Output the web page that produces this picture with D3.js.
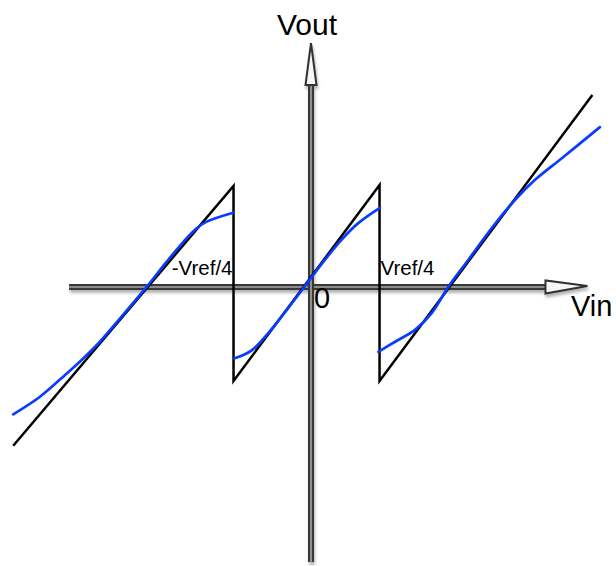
<!DOCTYPE html>
<html>
<head>
<meta charset="utf-8">
<script src="https://cdn.jsdelivr.net/npm/d3@7"></script>
<style>
  html, body { margin: 0; padding: 0; background: #fff; }
  svg { display: block; }
</style>
</head>
<body>
<svg id="chart" width="616" height="566"></svg>
<script>
// Folding transfer characteristic, values in units of Vref.

// Ideal (piecewise-linear, folding) transfer curve
const idealVin  = [-1.034, -0.269, -0.269, 0.238, 0.238, 0.977];
const idealVout = [-0.551,  0.351, -0.326, 0.354, -0.326, 0.667];

// Real (smooth) transfer curve, three folds
const realVin1  = [-1.034, -0.941, -0.848, -0.802, -0.733, -0.663, -0.570, -0.501, -0.443, -0.397, -0.362, -0.270];
const realVout1 = [-0.442, -0.381, -0.300, -0.259, -0.190, -0.109,  0.001,  0.088,  0.157,  0.204,  0.227,  0.258];
const realVin2  = [-0.267, -0.207, -0.149, -0.080, -0.010, 0.048, 0.105, 0.163, 0.239];
const realVout2 = [-0.248, -0.221, -0.161, -0.074,  0.018, 0.094, 0.163, 0.221, 0.275];
const realVin3  = [0.234, 0.292, 0.361, 0.419, 0.477, 0.546, 0.627, 0.708, 0.778, 0.871, 1.003];
const realVout3 = [-0.225, -0.190, -0.149, -0.091, 0.001, 0.094, 0.204, 0.302, 0.372, 0.447, 0.555];

// Fold points labelled on the Vin axis
const tickValues = [-0.269, 0.238];
const tickLabels = ["-Vref/4", "Vref/4"];

// Axis extents
const vinAxisExtent  = [-0.840, 0.960];
const voutAxisExtent = [-0.955, 0.847];

const svg = d3.select("#chart");
const W = 616, H = 566;
const x = d3.scaleLinear().domain([-1, 1]).range([23, 599]);
const y = d3.scaleLinear().domain([-1, 1]).range([575, -1]);

const font = "'Liberation Sans', Arial, Helvetica, sans-serif";

// Soft drop shadow for the axes
const defs = svg.append("defs");
const f = defs.append("filter").attr("id", "axisShadow")
  .attr("filterUnits", "userSpaceOnUse")
  .attr("x", 0).attr("y", 0).attr("width", W).attr("height", H);
f.append("feGaussianBlur").attr("in", "SourceAlpha").attr("stdDeviation", 1.6).attr("result", "b");
f.append("feOffset").attr("in", "b").attr("dx", 1).attr("dy", 3).attr("result", "o");
f.append("feComponentTransfer").attr("in", "o").attr("result", "s")
  .append("feFuncA").attr("type", "linear").attr("slope", 0.3);
const m = f.append("feMerge");
m.append("feMergeNode").attr("in", "s");
m.append("feMergeNode").attr("in", "SourceGraphic");

// Axes drawn as hollow arrows
const axes = svg.append("g").attr("filter", "url(#axisShadow)");
const headLen = 42, headHalf = 6;

const x0 = x(0), y0 = y(0);
const hTip = x(vinAxisExtent[1]), hBase = hTip - headLen;
const vTip = y(voutAxisExtent[1]), vBase = vTip + headLen;

function shaft(x1, y1, x2, y2) {
  axes.append("line").attr("x1", x1).attr("y1", y1).attr("x2", x2).attr("y2", y2)
    .attr("stroke", "#383838").attr("stroke-width", 6);
  axes.append("line").attr("x1", x1).attr("y1", y1).attr("x2", x2).attr("y2", y2)
    .attr("stroke", "#a8a8a8").attr("stroke-width", 1.6);
}
shaft(x(vinAxisExtent[0]), y0, hBase, y0);
shaft(x0, y(voutAxisExtent[0]), x0, vBase);

function head(points) {
  axes.append("path")
    .attr("d", d3.line()(points) + "Z")
    .attr("fill", "#f6f6f6")
    .attr("stroke", "#333")
    .attr("stroke-width", 2)
    .attr("stroke-linejoin", "miter");
}
head([[hTip, y0 - 1], [hBase, y0 - headHalf - 0.5], [hBase, y0 + headHalf + 0.5]]);
head([[x0, vTip], [x0 - headHalf + 0.5, vBase], [x0 + headHalf - 0.5, vBase]]);

// Ideal curve
const lineLin = d3.line().x(d => x(d[0])).y(d => y(d[1])).curve(d3.curveLinear);
svg.append("path")
  .attr("d", lineLin(d3.zip(idealVin, idealVout)))
  .attr("fill", "none")
  .attr("stroke", "#000")
  .attr("stroke-width", 2.5)
  .attr("stroke-linejoin", "miter")
  .attr("stroke-miterlimit", 20);

// Real curve
const lineSmooth = d3.line().x(d => x(d[0])).y(d => y(d[1])).curve(d3.curveCatmullRom.alpha(0.5));
[[realVin1, realVout1], [realVin2, realVout2], [realVin3, realVout3]].forEach(([vi, vo]) => {
  svg.append("path")
    .attr("d", lineSmooth(d3.zip(vi, vo)))
    .attr("fill", "none")
    .attr("stroke", "#0a3cff")
    .attr("stroke-width", 2.7)
    .attr("stroke-linecap", "round");
});

// Labels
const labels = svg.append("g").attr("font-family", font).attr("fill", "#000");
labels.append("text").attr("x", x0 - 4).attr("y", 35)
  .attr("text-anchor", "middle").attr("font-size", 30).text("Vout");
labels.append("text").attr("x", 571).attr("y", 316)
  .attr("font-size", 29).text("Vin");
labels.append("text").attr("x", x0 + 3).attr("y", 308)
  .attr("font-size", 29).text("0");
tickValues.forEach((v, i) => {
  labels.append("text")
    .attr("x", v < 0 ? x(v) - 1 : x(v) + 1)
    .attr("y", 275)
    .attr("text-anchor", v < 0 ? "end" : "start")
    .attr("font-size", 20.5)
    .text(tickLabels[i]);
});
</script>
</body>
</html>
